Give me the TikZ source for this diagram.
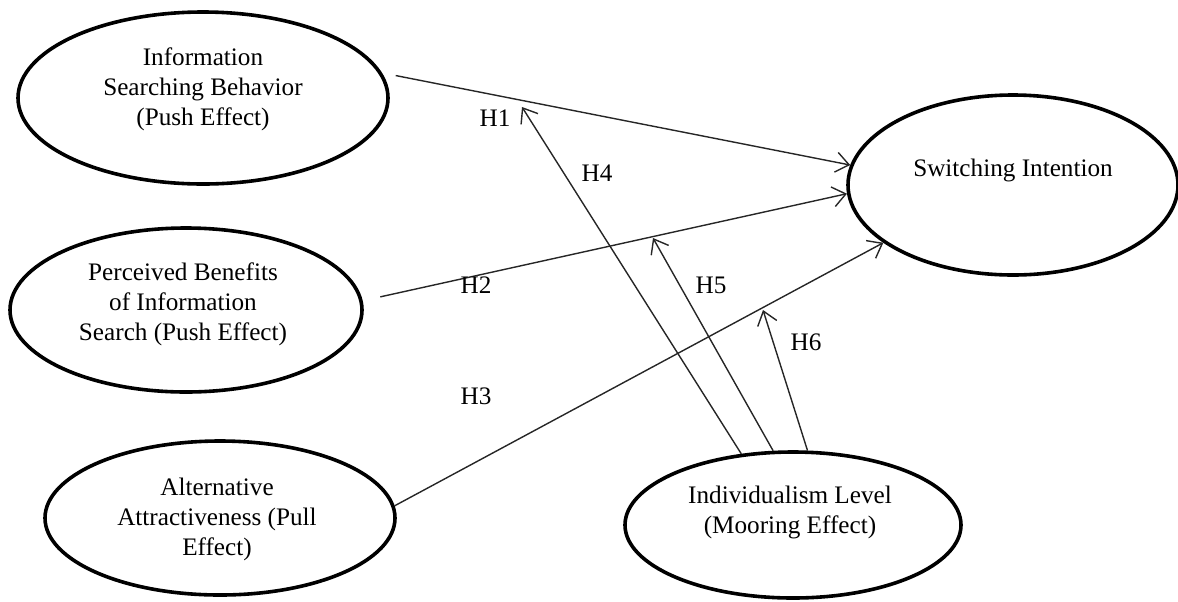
\documentclass[tikz,border=0pt]{standalone}
\usepackage{fontspec}
\setmainfont{Liberation Serif}
\usetikzlibrary{shapes.geometric,arrows.meta}
\begin{document}
\begin{tikzpicture}[x=0.5pt,y=-0.5pt,
  construct/.style={draw=black,line width=1.8pt,ellipse,inner sep=0pt},
  ctext/.style={align=center,font=\fontsize{12.6pt}{15pt}\selectfont,inner sep=0pt},
  hlabel/.style={font=\fontsize{12.6pt}{15pt}\selectfont,inner sep=0pt},
  path/.style={draw=black!85,line width=0.7pt,-{Straight Barb[length=6.5pt,width=10pt,line width=0.7pt]}}]
\useasboundingbox (0,0) rectangle (1178,601);
% constructs
\node[construct,minimum width=185pt,minimum height=86pt] (e1) at (203,98) {};
\node[construct,minimum width=176pt,minimum height=82pt] (e2) at (186,310) {};
\node[construct,minimum width=175pt,minimum height=77pt] (e3) at (220,518) {};
\node[construct,minimum width=165pt,minimum height=90pt] (sw) at (1013,185) {};
\node[construct,minimum width=168pt,minimum height=73pt] (e5) at (793,525) {};
% texts
\node[ctext] (t1) at (203,89) {Information\\Searching Behavior\\(Push Effect)};
\node[ctext] (t2) at (183,304) {Perceived Benefits\\of Information\\Search (Push Effect)};
\node[ctext] (t3) at (217,519) {Alternative\\Attractiveness (Pull\\Effect)};
\node[ctext] (t4) at (1013,170) {Switching Intention};
\node[ctext] (t5) at (790,512) {Individualism Level\\(Mooring Effect)};
% moderation targets
\coordinate (m1) at (522,107);
\coordinate (m2) at (653,238);
\coordinate (m3) at (763,310);
% paths
\draw[path,shorten <=7pt] (e1.8.3) -- (sw.173.8);
\draw[path,shorten <=9pt] (e2.3.8) -- (sw.183.5);
\draw[path] (e3.4.2) -- (sw.204.4);
\draw[path] (e5.126) -- (m1);
\draw[path] (e5.105.3) -- (m2);
\draw[path] (e5.79.1) -- (m3);
% labels
\node[hlabel] (h1) at (495,118) {H1};
\node[hlabel] (h4) at (597,173) {H4};
\node[hlabel] (h2) at (476,285) {H2};
\node[hlabel] (h5) at (711,285) {H5};
\node[hlabel] (h6) at (806,342) {H6};
\node[hlabel] (h3) at (476,396) {H3};
\end{tikzpicture}
\end{document}
